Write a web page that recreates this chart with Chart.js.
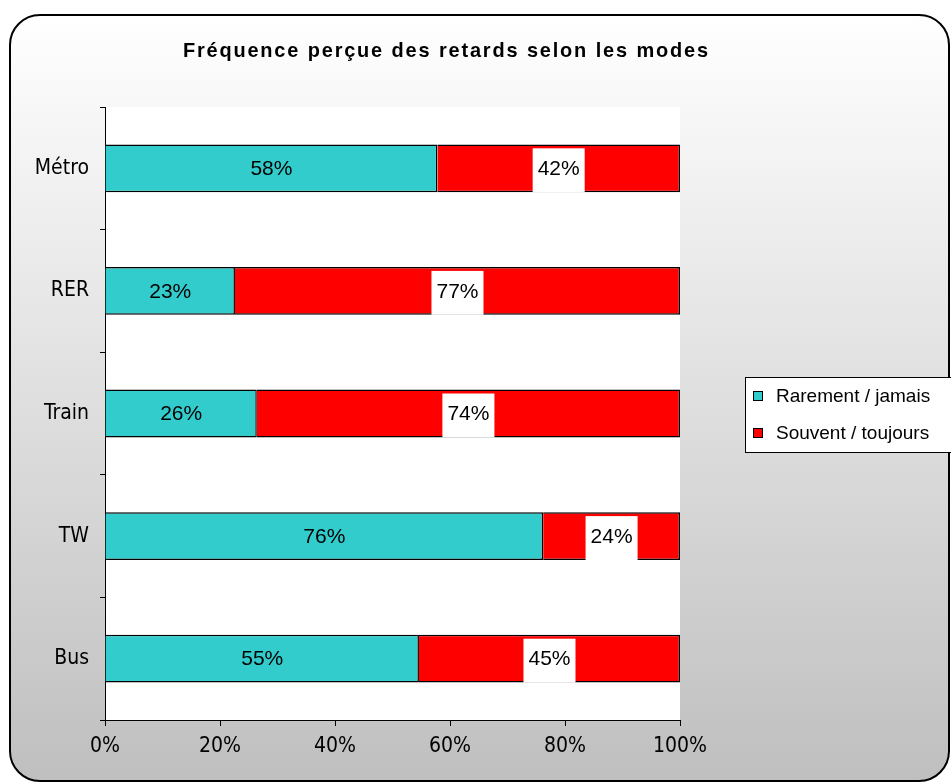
<!DOCTYPE html>
<html>
<head>
<meta charset="utf-8">
<title>Fréquence perçue des retards selon les modes</title>
<script src="https://cdn.jsdelivr.net/npm/chart.js@4.4.1/dist/chart.umd.min.js"></script>
<style>
  body { margin: 0; background: #fff; }
  #wrap { width: 951px; height: 783px; }
</style>
</head>
<body>
<div id="wrap"><canvas id="myChart" width="951" height="783"></canvas></div>
<script>
  // data (share of answers, in %)
  const modes = ['Métro', 'RER', 'Train', 'TW', 'Bus'];
  const rarement = [57.8, 22.6, 26.4, 76.2, 54.6];
  const souvent = [42.2, 77.4, 73.6, 23.8, 45.4];
  const seriesNames = ['Rarement / jamais', 'Souvent / toujours'];
  const titleText = 'Fréquence perçue des retards selon les modes';

  const axisFont = { family: '"DejaVu Sans Condensed", "DejaVu Sans", sans-serif', size: 21 };
  const arial = '"Liberation Sans", Arial, sans-serif';

  // frame, gradient and white plot area
  const background = {
    id: 'background',
    beforeDraw(chart) {
      const ctx = chart.ctx, a = chart.chartArea;
      ctx.save();
      ctx.fillStyle = '#fff';
      ctx.fillRect(0, 0, chart.width, chart.height);
      const g = ctx.createLinearGradient(0, 15, 0, 781);
      g.addColorStop(0, '#ffffff');
      g.addColorStop(1, '#bfbfbf');
      ctx.beginPath();
      ctx.roundRect(10, 15, 939, 766, 30);
      ctx.fillStyle = g;
      ctx.fill();
      ctx.lineWidth = 2;
      ctx.strokeStyle = '#000';
      ctx.stroke();
      ctx.fillStyle = '#fff';
      ctx.fillRect(a.left, a.top, a.right - a.left, a.bottom - a.top);

      // title: bold, slightly spaced letters
      const sx = 0.95, spacing = 1.8;
      ctx.font = 'bold 21px ' + arial;
      ctx.fillStyle = '#000';
      ctx.textBaseline = 'alphabetic';
      const wt = ctx.measureText(titleText).width * sx + (titleText.length - 1) * spacing;
      const gaps = titleText.split(' ').length - 1;
      const extra = (525 - wt) / gaps;
      let x = 183;
      for (const ch of titleText) {
        ctx.save();
        ctx.translate(x, 57);
        ctx.scale(sx, 1);
        ctx.fillText(ch, 0, 0);
        ctx.restore();
        x += ctx.measureText(ch).width * sx + spacing + (ch == ' ' ? extra : 0);
      }
      ctx.restore();
    }
  };

  // percent labels inside the bars, white box behind the red ones
  const barLabels = {
    id: 'barLabels',
    afterDatasetsDraw(chart) {
      const ctx = chart.ctx;
      ctx.save();
      ctx.font = '21px ' + arial;
      ctx.textAlign = 'center';
      ctx.textBaseline = 'middle';
      chart.data.datasets.forEach((ds, di) => {
        chart.getDatasetMeta(di).data.forEach((bar, i) => {
          const cx = (bar.x + bar.base) / 2;
          const txt = Math.round(ds.data[i]) + '%';
          if (di == 1) {
            const w = ctx.measureText(txt).width + 10;
            const bottom = bar.y + bar.height / 2;
            ctx.fillStyle = '#fff';
            ctx.fillRect(cx - w / 2, bar.y - 20, w, bottom - (bar.y - 20));
          }
          ctx.fillStyle = '#000';
          ctx.fillText(txt, cx, bar.y + 1);
        });
      });
      ctx.restore();
    }
  };

  // boxed legend on the right
  const boxLegend = {
    id: 'boxLegend',
    afterDraw(chart) {
      const ctx = chart.ctx;
      ctx.save();
      ctx.fillStyle = '#fff';
      ctx.fillRect(745, 377, 210, 75);
      ctx.strokeStyle = '#000';
      ctx.lineWidth = 1;
      ctx.strokeRect(745.5, 377.5, 210, 75);
      ctx.font = '19px ' + arial;
      ctx.textBaseline = 'middle';
      chart.data.datasets.forEach((ds, i) => {
        const y = 396 + i * 37;
        ctx.fillStyle = ds.backgroundColor;
        ctx.fillRect(753, y - 5, 10, 10);
        ctx.strokeRect(753.5, y - 4.5, 9, 9);
        ctx.fillStyle = '#000';
        ctx.fillText(ds.label, 776, y + 1);
      });
      ctx.restore();
    }
  };

  const config = {
    type: 'bar',
    data: {
      labels: modes,
      datasets: [
        { label: seriesNames[0], data: rarement, backgroundColor: '#33CCCC', borderColor: '#000', borderWidth: 1.5 },
        { label: seriesNames[1], data: souvent, backgroundColor: '#FF0000', borderColor: '#000', borderWidth: 1.5 }
      ]
    },
    options: {
      indexAxis: 'y',
      responsive: false,
      animation: false,
      layout: { padding: { left: 0, right: 271, top: 107, bottom: 0 } },
      datasets: { bar: { barPercentage: 0.39, categoryPercentage: 1 } },
      plugins: {
        legend: { display: false },
        title: { display: false },
        tooltip: { enabled: false }
      },
      scales: {
        x: {
          stacked: true,
          min: 0,
          max: 100,
          ticks: { stepSize: 20, color: '#000', font: axisFont, padding: 8, callback: v => v + '%' },
          grid: { drawOnChartArea: false, drawTicks: true, tickLength: 6, color: '#000' },
          border: { color: '#000', width: 1 },
          afterFit(s) { s.height = 63; }
        },
        y: {
          stacked: true,
          ticks: { color: '#000', font: axisFont, padding: 11 },
          grid: { offset: true, drawOnChartArea: false, drawTicks: true, tickLength: 5, color: '#000' },
          border: { color: '#000', width: 1 },
          afterFit(s) { s.width = 105; }
        }
      }
    },
    plugins: [background, barLabels, boxLegend]
  };

  const myChart = new Chart(document.getElementById('myChart'), config);
</script>
</body>
</html>
